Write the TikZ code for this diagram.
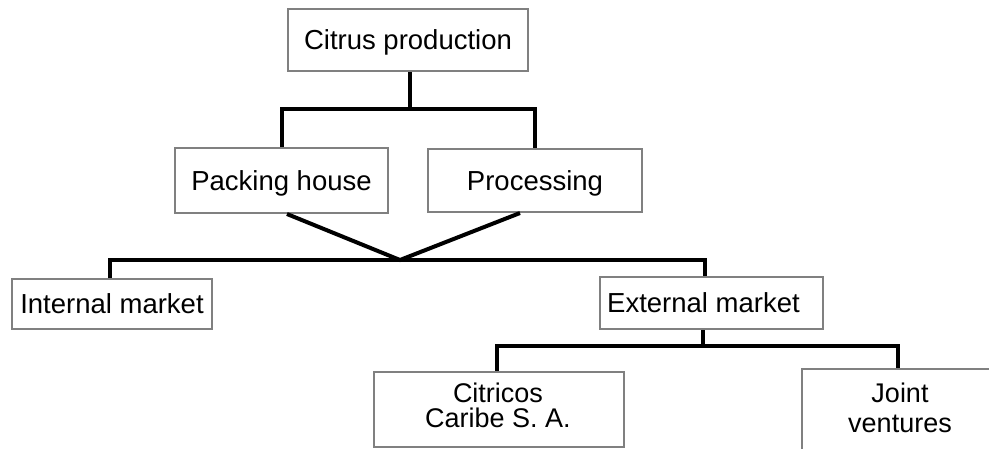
\documentclass[tikz,border=0pt]{standalone}
\usepackage{fontspec}
\setmainfont{Liberation Sans}
\definecolor{boxgray}{HTML}{808080}
\tikzset{
  box/.style={draw=boxgray, line width=2pt, fill=white, rectangle, inner sep=0pt,
    font=\fontsize{27.5}{30}\selectfont, text height=19pt, text depth=0pt},
  txt/.style={inner sep=0pt, align=center},
  conn/.style={line width=4pt, black, line join=miter}
}
\begin{document}
\begin{tikzpicture}[x=1pt,y=-1pt]
\useasboundingbox (0,0) rectangle (989,448);
\clip (0,0) rectangle (989,448);
% boxes
\node[box, minimum width=240.5pt, minimum height=62pt] (cp) at (408,40) {Citrus production};
\node[box, minimum width=213pt, minimum height=65pt] (ph) at (281.5,180.5) {Packing house};
\node[box, minimum width=214pt, minimum height=63pt] (pr) at (535,180.5) {Processing};
\node[box, minimum width=200pt, minimum height=50pt] (im) at (112,304) {Internal market};
\node[box, minimum width=223pt, minimum height=52pt] (em) at (711.5,303) {\hspace*{-16pt}External market};
\node[box, minimum width=250pt, minimum height=75pt] (cc) at (499,409.5) {};
\node[box, minimum width=192pt, minimum height=100pt] (jv) at (898,419) {};
\node[txt, font=\fontsize{27}{25}\selectfont] (cct) at (498,405.5) {Citricos\\Caribe S. A.};
\node[txt, font=\fontsize{27}{30}\selectfont] (jvt) at (900,408) {Joint\\ventures};
% connectors
\draw[conn] ([xshift=2pt]cp.south) -- ++(0,39);
\draw[conn] (ph.north) -- ++(0,-38) -| (pr.north);
\coordinate (apex) at (400,260);
\draw[conn] ([xshift=5.5pt]ph.south) -- (apex) -- ([xshift=-15pt]pr.south);
\draw[conn] ([xshift=-2pt]im.north) -- ++(0,-18) -| ([xshift=-6.5pt]em.north);
\draw[conn] ([xshift=-8.5pt]em.south) -- ++(0,16) -| ([xshift=-2pt]cc.north);
\draw[conn] ([xshift=-8.5pt]em.south) ++(0,16) -| (jv.north);
\end{tikzpicture}
\end{document}
